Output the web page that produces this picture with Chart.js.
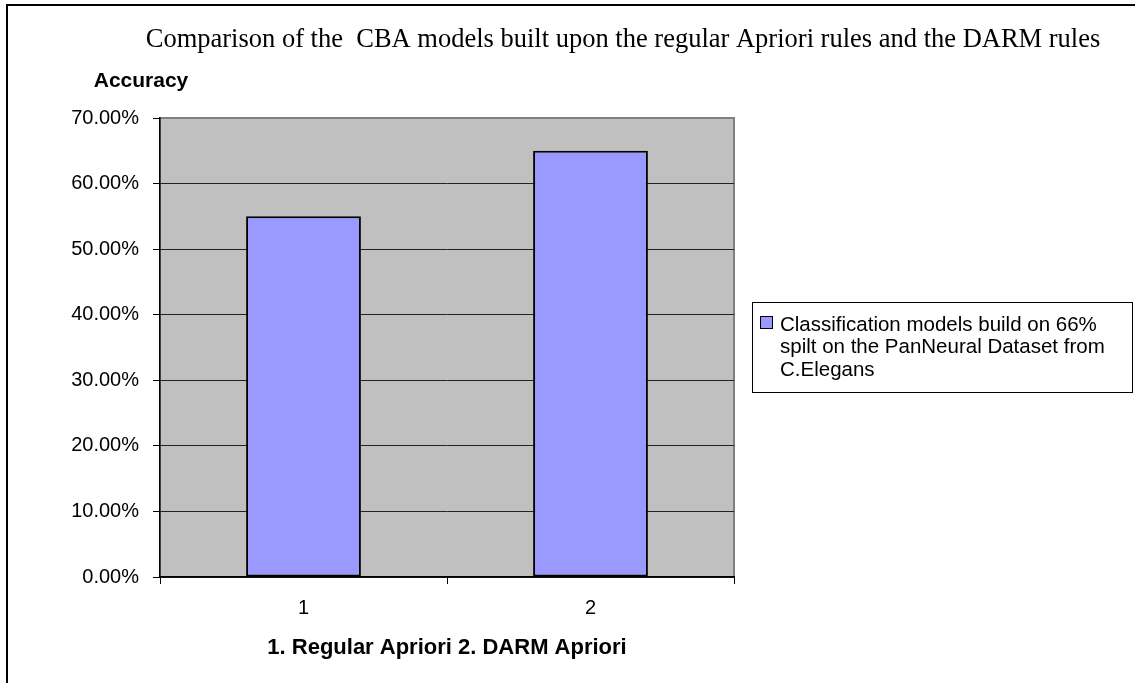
<!DOCTYPE html>
<html>
<head>
<meta charset="utf-8">
<script src="https://cdn.jsdelivr.net/npm/chart.js@4.4.1/dist/chart.umd.min.js"></script>
<style>
  html, body { margin: 0; padding: 0; background: #fff; }
  #wrap { width: 1135px; height: 683px; position: relative; }
</style>
</head>
<body>
<div id="wrap"><canvas id="chart" width="1135" height="683"></canvas></div>
<script>
const categories = ['1', '2'];
const accuracy = [0.55, 0.65];
const seriesLabel = ['Classification models build on 66%', 'spilt on the PanNeural Dataset from', 'C.Elegans'];
const chartTitle = 'Comparison of the  CBA models built upon the regular Apriori rules and the DARM rules';
const yTitle = 'Accuracy';
const xTitle = '1. Regular Apriori 2. DARM Apriori';

const sans = '"Liberation Sans", Arial, sans-serif';
const serif = '"Liberation Serif", "Times New Roman", serif';

const decorPlugin = {
    id: 'decor',
    beforeDraw(chart) {
        const ctx = chart.ctx;
        const a = chart.chartArea;
        ctx.save();
        // outer frame
        ctx.strokeStyle = '#000';
        ctx.lineWidth = 2;
        ctx.beginPath();
        ctx.moveTo(7, 690);
        ctx.lineTo(7, 5);
        ctx.lineTo(1140, 5);
        ctx.stroke();
        // plot area
        ctx.fillStyle = '#c0c0c0';
        ctx.fillRect(a.left, a.top, a.right - a.left, a.bottom - a.top);
        ctx.strokeStyle = '#808080';
        ctx.lineWidth = 2;
        ctx.strokeRect(a.left, a.top, a.right - a.left, a.bottom - a.top);
        ctx.restore();
    },
    afterDraw(chart) {
        const ctx = chart.ctx;
        ctx.save();
        ctx.fillStyle = '#000';
        ctx.textBaseline = 'middle';
        ctx.textAlign = 'center';
        ctx.font = '26.5px ' + serif;
        ctx.fillText(chartTitle, 623, 40);
        ctx.font = 'bold 21px ' + sans;
        ctx.fillText(yTitle, 141, 81);
        ctx.font = 'bold 22px ' + sans;
        ctx.fillText(xTitle, 447, 648);

        // legend
        const lx = 752, ly = 302, lw = 380, lh = 90;
        ctx.strokeStyle = '#000';
        ctx.lineWidth = 1;
        ctx.strokeRect(lx + 0.5, ly + 0.5, lw, lh);
        const ds = chart.data.datasets[0];
        ctx.fillStyle = ds.backgroundColor;
        ctx.fillRect(760, 316, 12, 12);
        ctx.strokeRect(760.5, 316.5, 12, 12);
        ctx.fillStyle = '#000';
        ctx.textAlign = 'left';
        ctx.font = '20.5px ' + sans;
        seriesLabel.forEach((line, i) => {
            ctx.fillText(line, 780, 325 + i * 22.5);
        });
        ctx.restore();
    }
};

new Chart(document.getElementById('chart'), {
    type: 'bar',
    data: {
        labels: categories,
        datasets: [{
            label: seriesLabel.join(' '),
            data: accuracy,
            backgroundColor: '#9999ff',
            borderColor: '#000',
            borderWidth: 2,
            borderSkipped: false,
            categoryPercentage: 0.8,
            barPercentage: 0.5
        }]
    },
    options: {
        responsive: false,
        animation: false,
        layout: { padding: { top: 118, right: 401, left: 0, bottom: 0 } },
        scales: {
            x: {
                offset: true,
                afterFit: s => { s.height = 106; },
                grid: {
                    offset: true,
                    drawOnChartArea: false,
                    drawTicks: true,
                    tickLength: 7,
                    color: '#000'
                },
                border: { color: '#000', width: 1.5 },
                ticks: { color: '#000', padding: 12, font: { family: sans, size: 20 } }
            },
            y: {
                min: 0,
                max: 0.7,
                afterFit: s => { s.width = 160; },
                grid: {
                    color: ctx => ctx.tick && ctx.tick.value >= 0.7 ? '#808080' : '#222',
                    tickLength: 7,
                    tickColor: '#000'
                },
                border: { color: '#000', width: 1.5 },
                ticks: {
                    stepSize: 0.1,
                    color: '#000',
                    padding: 14,
                    font: { family: sans, size: 20 },
                    callback: v => (v * 100).toFixed(2) + '%'
                }
            }
        },
        plugins: {
            legend: { display: false },
            tooltip: { enabled: false }
        }
    },
    plugins: [decorPlugin]
});
</script>
</body>
</html>
